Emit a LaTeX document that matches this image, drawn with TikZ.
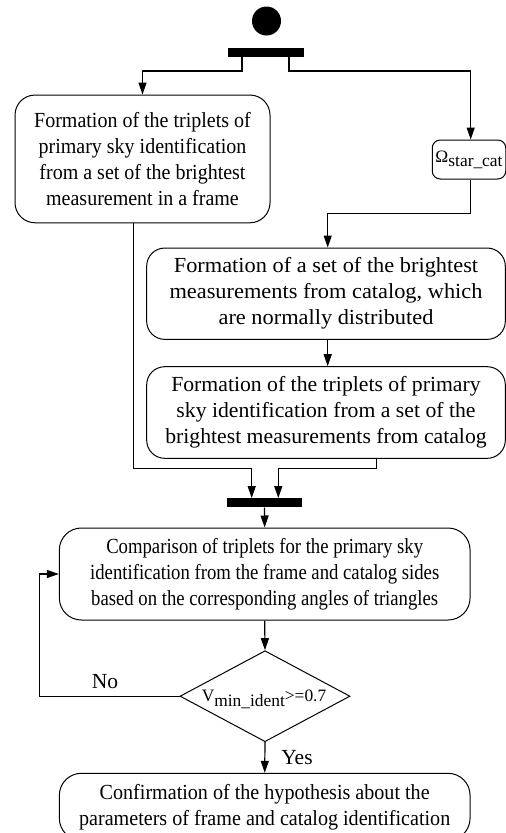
\documentclass[tikz,border=0pt]{standalone}
\usepackage{fontspec}
\setmainfont{Liberation Serif}
\usetikzlibrary{arrows.meta,shapes.geometric}
\tikzset{
  every node/.style={font=\fontsize{21.5}{26}\selectfont},
  stretch/.style={font=\fontsize{21.5}{26}\selectfont\addfontfeatures{FakeStretch=#1}},
  actbox/.style={draw,line width=1pt,rounded corners=20pt,align=center,inner sep=0pt},
  bar/.style={fill=black,draw=none,inner sep=0pt,minimum height=9pt},
  arr/.style={line width=1.2pt,-{Triangle[length=12pt,width=8pt]}},
  dec/.style={draw,line width=1pt,shape=diamond,inner sep=0pt,minimum width=170pt,minimum height=91pt},
  smalltxt/.style={font=\fontsize{17.4}{20}\selectfont,inner sep=0pt}
}
\begin{document}
\begin{tikzpicture}[x=1pt,y=-1pt]
\clip (0,0) rectangle (506,833);
\node[circle,fill=black,inner sep=0pt,minimum size=29pt] (start) at (266.5,21) {};
\node[bar,minimum width=76pt] (fork) at (266,52.5) {};
\node[actbox,stretch=0.93,minimum width=255pt,minimum height=127.7pt] (boxA) at (142.5,158.9)
  {Formation of the triplets of\\primary sky identification\\from a set of the brightest\\measurement in a frame};
\node[actbox,smalltxt,rounded corners=8pt,minimum width=73.5pt,minimum height=39pt] (omega) at (469,159.5)
  {Ω\raisebox{-4pt}{star\_cat}};
\node[actbox,stretch=1.04,rounded corners=18pt,minimum width=358.6pt,minimum height=91.3pt] (boxB) at (326,293.7)
  {Formation of a set of the brightest\\measurements from catalog, which\\are normally distributed};
\node[actbox,stretch=1.01,rounded corners=18pt,minimum width=358.6pt,minimum height=91.6pt] (boxC) at (326,412.5)
  {Formation of the triplets of primary\\sky identification from a set of the\\brightest measurements from catalog};
\node[bar,minimum width=75.6pt] (join) at (264.5,502.8) {};
\node[actbox,stretch=0.87,rounded corners=22pt,minimum width=410.7pt,minimum height=92pt] (boxD) at (264.7,574)
  {Comparison of triplets for the primary sky\\identification from the frame and catalog sides\\based on the corresponding angles of triangles};
\node[dec] (dia) at (265,696.2) {};
\node[smalltxt] (dialbl) at ([xshift=-1pt,yshift=-3pt]dia.center) {V\raisebox{-5pt}{min\_ident}>=0.7};
\node[actbox,stretch=0.935,rounded corners=22pt,minimum width=410.7pt,minimum height=67pt] (boxE) at (264.7,806.8)
  {Confirmation of the hypothesis about the\\parameters of frame and catalog identification};
% connectors
\draw[arr] ([xshift=-24pt]fork.south) -- ++(0,13.7) -| (boxA.north);
\draw[arr] ([xshift=23pt]fork.south) -- ++(0,13.7) -| ([xshift=1.7pt]omega.north);
\draw[arr] ([xshift=1.7pt]omega.south) -- ++(0,33.7) -| ([xshift=1.7pt]boxB.north);
\draw[arr] ([xshift=1.7pt]boxB.south) -- ([xshift=1.7pt]boxC.north);
\draw[arr] ([xshift=50.7pt]boxC.south) -- ++(0,10) -| ([xshift=13.8pt]join.north);
\draw[arr] ([xshift=-9.2pt]boxA.south) |- ([xshift=-12.8pt,yshift=30pt]join.north) -- ([xshift=-12.8pt]join.north);
\draw[arr] (join.south) -- (boxD.north);
\draw[arr] (boxD.south) -- (dia.north);
\draw[arr] (dia.west) -- ++(-140,0) |- (boxD.west);
\draw[arr] (dia.south) -- (boxE.north);
\node[anchor=center] (no) at (105,682) {No};
\node[anchor=center] (yes) at (297,757.5) {Yes};
\end{tikzpicture}
\end{document}
